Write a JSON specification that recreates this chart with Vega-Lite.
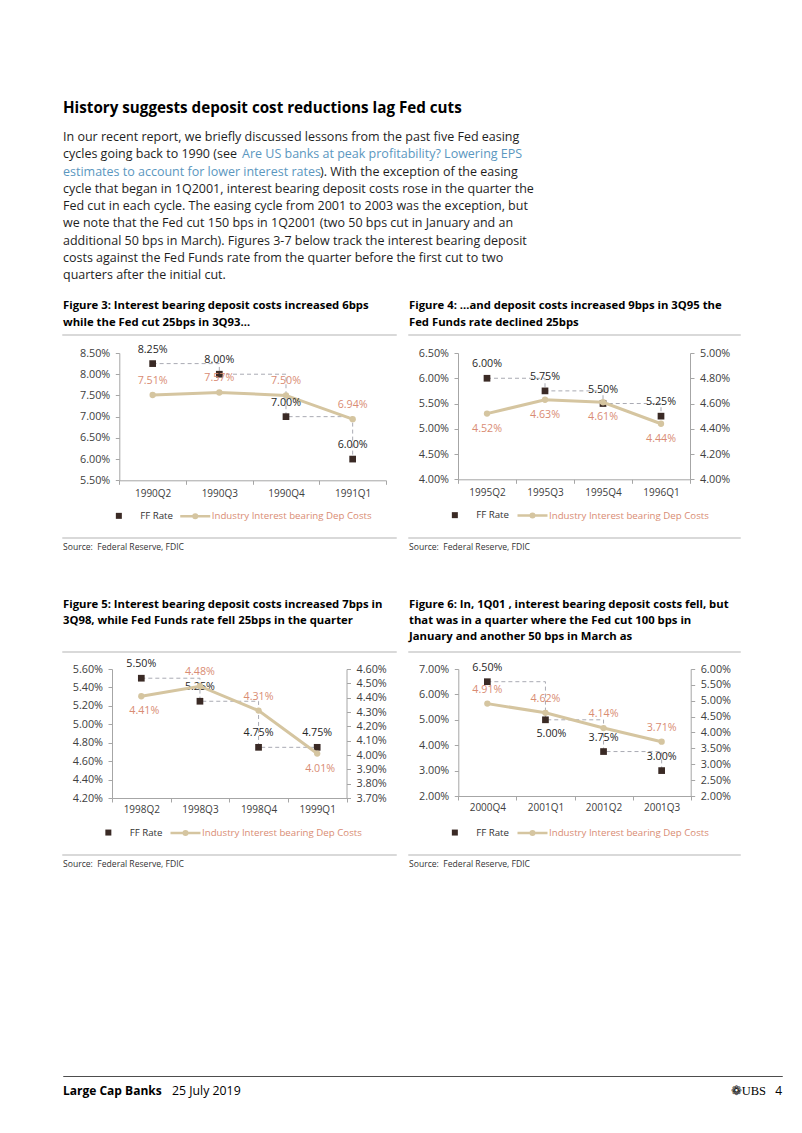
{
  "$schema": "https://vega.github.io/schema/vega-lite/v6.json",
  "padding": {"left": 62, "top": 100, "right": 21, "bottom": 30},
  "background": "white",
  "config": {
    "font": "Open Sans",
    "view": {"stroke": null},
    "axis": {"grid": false, "title": null, "domainColor": "#a6a6a6", "tickColor": "#a6a6a6", "labelColor": "#404040", "tickSize": 4, "labelFont": "Open Sans"},
    "legend": {"labelFont": "Open Sans"},
    "title": {"font": "Open Sans"}
  },
  "spacing": 0,
  "resolve": {"scale": {"color": "independent", "fill": "independent", "stroke": "independent"}, "legend": {"color": "independent", "fill": "independent", "stroke": "independent"}},
  "vconcat": [
    {
      "width": 454,
      "height": 138,
      "title": {"text": "History suggests deposit cost reductions lag Fed cuts", "anchor": "start", "frame": "group", "fontSize": 15.2, "fontWeight": "bold", "color": "#000000", "baseline": "bottom", "offset": 0},
      "data": {"values": [
        {"line": 1, "seg": 1, "kind": "body", "text": "In our recent report, we briefly discussed lessons from the past five Fed easing"},
        {"line": 2, "seg": 1, "kind": "body", "text": "cycles going back to 1990 (see"},
        {"line": 2, "seg": 2, "kind": "link", "text": "Are US banks at peak profitability? Lowering EPS"},
        {"line": 3, "seg": 1, "kind": "link", "text": "estimates to account for lower interest rates"},
        {"line": 3, "seg": 2, "kind": "body", "text": "). With the exception of the easing"},
        {"line": 4, "seg": 1, "kind": "body", "text": "cycle that began in 1Q2001, interest bearing deposit costs rose in the quarter the"},
        {"line": 5, "seg": 1, "kind": "body", "text": "Fed cut in each cycle. The easing cycle from 2001 to 2003 was the exception, but"},
        {"line": 6, "seg": 1, "kind": "body", "text": "we note that the Fed cut 150 bps in 1Q2001 (two 50 bps cut in January and an"},
        {"line": 7, "seg": 1, "kind": "body", "text": "additional 50 bps in March). Figures 3-7 below track the interest bearing deposit"},
        {"line": 8, "seg": 1, "kind": "body", "text": "costs against the Fed Funds rate from the quarter before the first cut to two"},
        {"line": 9, "seg": 1, "kind": "body", "text": "quarters after the initial cut."}
      ]},
      "encoding": {
        "y": {"field": "line", "type": "ordinal", "scale": {"type": "point", "padding": 0}, "axis": null},
        "text": {"field": "text"},
        "color": {"field": "kind", "type": "nominal", "scale": {"domain": ["body", "link"], "range": ["#1e1e1e", "#5b97c0"]}, "legend": null}
      },
      "layer": [
        {"transform": [{"filter": "datum.seg == 1"}], "mark": {"type": "text", "x": 0, "align": "left", "baseline": "middle", "fontSize": 12.5}},
        {"transform": [{"filter": "datum.seg == 2 && datum.line == 2"}], "mark": {"type": "text", "x": 0, "dx": 179, "align": "left", "baseline": "middle", "fontSize": 12.5}},
        {"transform": [{"filter": "datum.seg == 2 && datum.line == 3"}], "mark": {"type": "text", "x": 0, "dx": 257, "align": "left", "baseline": "middle", "fontSize": 12.5}}
      ]
    },
    {"width": 1, "height": 16, "data": {"values": [{}]}, "mark": {"type": "text", "text": ""}},
    {
      "hconcat": [
        {
          "vconcat": [
            {"width": 333, "height": 0.001, "view": {"stroke": "#cdcdcd", "strokeWidth": 1.5},
             "title": {"text": ["Figure 3: Interest bearing deposit costs increased 6bps", "while the Fed cut 25bps in 3Q93…"], "anchor": "start", "frame": "group", "fontSize": 11.3, "fontWeight": "bold", "color": "#000000", "baseline": "bottom", "lineHeight": 17, "offset": -9.95},
             "data": {"values": [{}]}, "mark": {"type": "text", "text": ""}},
            {"width": 1, "height": 17, "data": {"values": [{}]}, "mark": {"type": "text", "text": ""}},
            {
              "width": 333,
              "height": 127.3,
              "data": {"values": [
                {"q": "1990Q2", "series": "FF Rate", "v": 0.0825},
                {"q": "1990Q3", "series": "FF Rate", "v": 0.08},
                {"q": "1990Q4", "series": "FF Rate", "v": 0.07},
                {"q": "1991Q1", "series": "FF Rate", "v": 0.06},
                {"q": "1990Q2", "series": "Industry Interest bearing Dep Costs", "v": 0.0751},
                {"q": "1990Q3", "series": "Industry Interest bearing Dep Costs", "v": 0.0757},
                {"q": "1990Q4", "series": "Industry Interest bearing Dep Costs", "v": 0.075},
                {"q": "1991Q1", "series": "Industry Interest bearing Dep Costs", "v": 0.0694}
              ]},
              "encoding": {
                "x": {"field": "q", "type": "ordinal", "scale": {"type": "band", "paddingInner": 0, "paddingOuter": 0, "range": [56.3, 323]}, "axis": {"labelAngle": 0, "labelFontSize": 10, "labelPadding": 4, "tickBand": "extent"}},
                "y": {"field": "v", "type": "quantitative", "scale": {"domain": [0.055, 0.085], "nice": false, "zero": false}, "axis": {"offset": -56.3, "values": [0.055, 0.06, 0.065, 0.07, 0.075, 0.08, 0.085], "format": ".2%", "labelFontSize": 10.8, "labelPadding": 5.5}}
              },
              "layer": [
                {"transform": [{"filter": "datum.series == 'FF Rate'"}], "mark": {"type": "line", "interpolate": "step-after", "strokeDash": [4, 3], "color": "#a9aab3", "strokeWidth": 1}},
                {"transform": [{"filter": "datum.series != 'FF Rate'"}], "mark": {"type": "line", "color": "#d5c5a0", "strokeWidth": 3}},
                {"transform": [{"filter": "datum.series == 'FF Rate'"}], "mark": {"type": "point", "shape": "square", "filled": true, "opacity": 1, "size": 45, "color": "#3a2a25"}},
                {"transform": [{"filter": "datum.series != 'FF Rate'"}], "mark": {"type": "point", "shape": "circle", "filled": true, "opacity": 1, "size": 40, "color": "#d5c5a0"}},
                {"transform": [{"filter": "datum.series == 'FF Rate'"}], "mark": {"type": "point", "shape": "square", "filled": true, "opacity": 0},
                 "encoding": {"fill": {"field": "series", "type": "nominal", "scale": {"domain": ["FF Rate"], "range": ["#3a2a25"]},
                   "legend": {"orient": "none", "legendX": 51, "legendY": 158, "title": null, "symbolType": "square", "symbolSize": 36, "symbolStrokeWidth": 0, "symbolOpacity": 1, "labelFontSize": 9.7, "labelColor": "#333333", "labelOffset": 16.5, "padding": 0}}}},
                {"transform": [{"filter": "datum.series != 'FF Rate'"}], "mark": {"type": "point", "filled": false, "opacity": 0},
                 "encoding": {"stroke": {"field": "series", "type": "nominal", "scale": {"domain": ["Industry Interest bearing Dep Costs"], "range": ["#d5c5a0"]},
                   "legend": {"orient": "none", "legendX": 115.75, "legendY": 146.75, "title": null, "symbolType": "M-1,0H1M0.12,0A0.12,0.12,0,1,1,-0.12,0A0.12,0.12,0,1,1,0.12,0", "symbolSize": 900, "symbolStrokeWidth": 2.5, "symbolOpacity": 1, "labelFontSize": 9.7, "labelColor": "#d98c73", "labelOffset": 0, "padding": 0}}}},
                {"transform": [{"filter": "datum.series == 'FF Rate'"}], "mark": {"type": "text", "dy": -14, "fontSize": 10.7, "color": "#262626"}, "encoding": {"text": {"field": "v", "type": "quantitative", "format": ".2%"}}},
                {"transform": [{"filter": "datum.series != 'FF Rate'"}], "mark": {"type": "text", "dy": -14, "fontSize": 10.7, "color": "#d98c73"}, "encoding": {"text": {"field": "v", "type": "quantitative", "format": ".2%"}}}
              ]
            },
            {"width": 1, "height": 57, "data": {"values": [{}]}, "mark": {"type": "text", "text": ""}},
            {"width": 333, "height": 0.001, "view": {"stroke": "#cdcdcd", "strokeWidth": 1.5},
             "title": {"text": "Source:\u00a0 Federal Reserve, FDIC", "orient": "bottom", "anchor": "start", "frame": "group", "fontSize": 8.6, "fontWeight": "normal", "color": "#333333", "baseline": "top", "offset": 0.2},
             "data": {"values": [{}]}, "mark": {"type": "text", "text": ""}}
          ],
          "spacing": 0, "bounds": "flush",
          "resolve": {"scale": {"fill": "independent", "stroke": "independent"}, "legend": {"fill": "independent", "stroke": "independent"}}
        },
        {
          "vconcat": [
            {"width": 331, "height": 0.001, "view": {"stroke": "#cdcdcd", "strokeWidth": 1.5},
             "title": {"text": ["Figure 4: …and deposit costs increased 9bps in 3Q95 the", "Fed Funds rate declined 25bps"], "anchor": "start", "frame": "group", "fontSize": 11.3, "fontWeight": "bold", "color": "#000000", "baseline": "bottom", "lineHeight": 17, "offset": -9.95},
             "data": {"values": [{}]}, "mark": {"type": "text", "text": ""}},
            {"width": 1, "height": 17, "data": {"values": [{}]}, "mark": {"type": "text", "text": ""}},
            {
              "width": 331,
              "height": 126.3,
              "data": {"values": [
                {"q": "1995Q2", "series": "FF Rate", "v": 0.06},
                {"q": "1995Q3", "series": "FF Rate", "v": 0.0575},
                {"q": "1995Q4", "series": "FF Rate", "v": 0.055},
                {"q": "1996Q1", "series": "FF Rate", "v": 0.0525},
                {"q": "1995Q2", "series": "Industry Interest bearing Dep Costs", "v": 0.0452},
                {"q": "1995Q3", "series": "Industry Interest bearing Dep Costs", "v": 0.0463},
                {"q": "1995Q4", "series": "Industry Interest bearing Dep Costs", "v": 0.0461},
                {"q": "1996Q1", "series": "Industry Interest bearing Dep Costs", "v": 0.0444}
              ]},
              "encoding": {
                "x": {"field": "q", "type": "ordinal", "scale": {"type": "band", "paddingInner": 0, "paddingOuter": 0, "range": [49, 281]}, "axis": {"labelAngle": 0, "labelFontSize": 10, "labelPadding": 4, "tickBand": "extent"}}
              },
              "layer": [
                {
                  "transform": [{"filter": "datum.series == 'FF Rate'"}],
                  "encoding": {"y": {"field": "v", "type": "quantitative", "scale": {"domain": [0.04, 0.065], "nice": false, "zero": false}, "axis": {"offset": -49, "values": [0.04, 0.045, 0.05, 0.055, 0.06, 0.065], "format": ".2%", "labelFontSize": 10.8, "labelPadding": 5.5}}},
                  "layer": [
                    {"mark": {"type": "line", "interpolate": "step-after", "strokeDash": [4, 3], "color": "#a9aab3", "strokeWidth": 1}},
                    {"mark": {"type": "point", "shape": "square", "filled": true, "opacity": 1, "size": 45, "color": "#3a2a25"}},
                    {"mark": {"type": "point", "shape": "square", "filled": true, "opacity": 0},
                     "encoding": {"fill": {"field": "series", "type": "nominal", "scale": {"domain": ["FF Rate"], "range": ["#3a2a25"]},
                       "legend": {"orient": "none", "legendX": 41, "legendY": 157.3, "title": null, "symbolType": "square", "symbolSize": 36, "symbolStrokeWidth": 0, "symbolOpacity": 1, "labelFontSize": 9.7, "labelColor": "#333333", "labelOffset": 16.5, "padding": 0}}}},
                    {"mark": {"type": "text", "dy": -14, "fontSize": 10.7, "color": "#262626"}, "encoding": {"text": {"field": "v", "type": "quantitative", "format": ".2%"}}}
                  ]
                },
                {
                  "transform": [{"filter": "datum.series != 'FF Rate'"}],
                  "encoding": {"y": {"field": "v", "type": "quantitative", "scale": {"domain": [0.04, 0.05], "nice": false, "zero": false}, "axis": {"orient": "right", "offset": -50, "values": [0.04, 0.042, 0.044, 0.046, 0.048, 0.05], "format": ".2%", "labelFontSize": 10.8, "labelPadding": 5.5}}},
                  "layer": [
                    {"mark": {"type": "line", "color": "#d5c5a0", "strokeWidth": 3}},
                    {"mark": {"type": "point", "shape": "circle", "filled": true, "opacity": 1, "size": 40, "color": "#d5c5a0"}},
                    {"mark": {"type": "point", "filled": false, "opacity": 0},
                     "encoding": {"stroke": {"field": "series", "type": "nominal", "scale": {"domain": ["Industry Interest bearing Dep Costs"], "range": ["#d5c5a0"]},
                       "legend": {"orient": "none", "legendX": 107, "legendY": 146, "title": null, "symbolType": "M-1,0H1M0.12,0A0.12,0.12,0,1,1,-0.12,0A0.12,0.12,0,1,1,0.12,0", "symbolSize": 900, "symbolStrokeWidth": 2.5, "symbolOpacity": 1, "labelFontSize": 9.7, "labelColor": "#d98c73", "labelOffset": 0, "padding": 0}}}},
                    {"mark": {"type": "text", "dy": 15, "fontSize": 10.7, "color": "#d98c73"}, "encoding": {"text": {"field": "v", "type": "quantitative", "format": ".2%"}}}
                  ]
                }
              ],
              "resolve": {"scale": {"y": "independent"}}
            },
            {"width": 1, "height": 58, "data": {"values": [{}]}, "mark": {"type": "text", "text": ""}},
            {"width": 331, "height": 0.001, "view": {"stroke": "#cdcdcd", "strokeWidth": 1.5},
             "title": {"text": "Source:\u00a0 Federal Reserve, FDIC", "orient": "bottom", "anchor": "start", "frame": "group", "fontSize": 8.6, "fontWeight": "normal", "color": "#333333", "baseline": "top", "offset": 0.2},
             "data": {"values": [{}]}, "mark": {"type": "text", "text": ""}}
          ],
          "spacing": 0, "bounds": "flush",
          "resolve": {"scale": {"fill": "independent", "stroke": "independent"}, "legend": {"fill": "independent", "stroke": "independent"}}
        }
      ],
      "spacing": 11,
      "resolve": {"scale": {"fill": "independent", "stroke": "independent"}, "legend": {"fill": "independent", "stroke": "independent"}}
    },
    {"width": 1, "height": 45, "data": {"values": [{}]}, "mark": {"type": "text", "text": ""}},
    {
      "hconcat": [
        {
          "vconcat": [
            {"width": 333, "height": 0.001, "view": {"stroke": "#cdcdcd", "strokeWidth": 1.5},
             "title": {"text": ["Figure 5: Interest bearing deposit costs increased 7bps in", "3Q98, while Fed Funds rate fell 25bps in the quarter", " "], "anchor": "start", "frame": "group", "fontSize": 11.3, "fontWeight": "bold", "color": "#000000", "baseline": "bottom", "lineHeight": 16, "offset": -7.7},
             "data": {"values": [{}]}, "mark": {"type": "text", "text": ""}},
            {"width": 1, "height": 16, "data": {"values": [{}]}, "mark": {"type": "text", "text": ""}},
            {
              "width": 333,
              "height": 129,
              "data": {"values": [
                {"q": "1998Q2", "series": "FF Rate", "v": 0.055},
                {"q": "1998Q3", "series": "FF Rate", "v": 0.0525},
                {"q": "1998Q4", "series": "FF Rate", "v": 0.0475},
                {"q": "1999Q1", "series": "FF Rate", "v": 0.0475},
                {"q": "1998Q2", "series": "Industry Interest bearing Dep Costs", "v": 0.0441},
                {"q": "1998Q3", "series": "Industry Interest bearing Dep Costs", "v": 0.0448},
                {"q": "1998Q4", "series": "Industry Interest bearing Dep Costs", "v": 0.0431},
                {"q": "1999Q1", "series": "Industry Interest bearing Dep Costs", "v": 0.0401}
              ]},
              "encoding": {
                "x": {"field": "q", "type": "ordinal", "scale": {"type": "band", "paddingInner": 0, "paddingOuter": 0, "range": [49, 283.5]}, "axis": {"labelAngle": 0, "labelFontSize": 10, "labelPadding": 2, "tickBand": "extent"}}
              },
              "layer": [
                {
                  "transform": [{"filter": "datum.series == 'FF Rate'"}],
                  "encoding": {"y": {"field": "v", "type": "quantitative", "scale": {"domain": [0.042, 0.056], "nice": false, "zero": false}, "axis": {"offset": -49, "values": [0.042, 0.044, 0.046, 0.048, 0.05, 0.052, 0.054, 0.056], "format": ".2%", "labelFontSize": 10.8, "labelPadding": 5.5}}},
                  "layer": [
                    {"mark": {"type": "line", "interpolate": "step-after", "strokeDash": [4, 3], "color": "#a9aab3", "strokeWidth": 1}},
                    {"mark": {"type": "point", "shape": "square", "filled": true, "opacity": 1, "size": 45, "color": "#3a2a25"}},
                    {"mark": {"type": "point", "shape": "square", "filled": true, "opacity": 0},
                     "encoding": {"fill": {"field": "series", "type": "nominal", "scale": {"domain": ["FF Rate"], "range": ["#3a2a25"]},
                       "legend": {"orient": "none", "legendX": 40.5, "legendY": 158.7, "title": null, "symbolType": "square", "symbolSize": 36, "symbolStrokeWidth": 0, "symbolOpacity": 1, "labelFontSize": 9.7, "labelColor": "#333333", "labelOffset": 16.5, "padding": 0}}}},
                    {"mark": {"type": "text", "dy": -14, "fontSize": 10.7, "color": "#262626"}, "encoding": {"text": {"field": "v", "type": "quantitative", "format": ".2%"}}}
                  ]
                },
                {
                  "transform": [{"filter": "datum.series != 'FF Rate'"}],
                  "encoding": {"y": {"field": "v", "type": "quantitative", "scale": {"domain": [0.037, 0.046], "nice": false, "zero": false}, "axis": {"orient": "right", "offset": -49.5, "values": [0.037, 0.038, 0.039, 0.04, 0.041, 0.042, 0.043, 0.044, 0.045, 0.046], "format": ".2%", "labelFontSize": 10.8, "labelPadding": 5.5}}},
                  "layer": [
                    {"mark": {"type": "line", "color": "#d5c5a0", "strokeWidth": 3}},
                    {"mark": {"type": "point", "shape": "circle", "filled": true, "opacity": 1, "size": 40, "color": "#d5c5a0"}},
                    {"mark": {"type": "point", "filled": false, "opacity": 0},
                     "encoding": {"stroke": {"field": "series", "type": "nominal", "scale": {"domain": ["Industry Interest bearing Dep Costs"], "range": ["#d5c5a0"]},
                       "legend": {"orient": "none", "legendX": 106, "legendY": 147.5, "title": null, "symbolType": "M-1,0H1M0.12,0A0.12,0.12,0,1,1,-0.12,0A0.12,0.12,0,1,1,0.12,0", "symbolSize": 900, "symbolStrokeWidth": 2.5, "symbolOpacity": 1, "labelFontSize": 9.7, "labelColor": "#d98c73", "labelOffset": 0, "padding": 0}}}},
                    {"transform": [{"filter": "datum.q == '1998Q2' || datum.q == '1999Q1'"}], "mark": {"type": "text", "dy": 15, "dx": 3, "fontSize": 10.7, "color": "#d98c73"}, "encoding": {"text": {"field": "v", "type": "quantitative", "format": ".2%"}}},
                    {"transform": [{"filter": "datum.q == '1998Q3' || datum.q == '1998Q4'"}], "mark": {"type": "text", "dy": -14, "fontSize": 10.7, "color": "#d98c73"}, "encoding": {"text": {"field": "v", "type": "quantitative", "format": ".2%"}}}
                  ]
                }
              ],
              "resolve": {"scale": {"y": "independent"}}
            },
            {"width": 1, "height": 56.5, "data": {"values": [{}]}, "mark": {"type": "text", "text": ""}},
            {"width": 333, "height": 0.001, "view": {"stroke": "#cdcdcd", "strokeWidth": 1.5},
             "title": {"text": "Source:\u00a0 Federal Reserve, FDIC", "orient": "bottom", "anchor": "start", "frame": "group", "fontSize": 8.6, "fontWeight": "normal", "color": "#333333", "baseline": "top", "offset": 0.2},
             "data": {"values": [{}]}, "mark": {"type": "text", "text": ""}}
          ],
          "spacing": 0, "bounds": "flush",
          "resolve": {"scale": {"fill": "independent", "stroke": "independent"}, "legend": {"fill": "independent", "stroke": "independent"}}
        },
        {
          "vconcat": [
            {"width": 331, "height": 0.001, "view": {"stroke": "#cdcdcd", "strokeWidth": 1.5},
             "title": {"text": ["Figure 6: In, 1Q01 , interest bearing deposit costs fell, but", "that was in a quarter where the Fed cut 100 bps in", "January and another 50 bps in March as"], "anchor": "start", "frame": "group", "fontSize": 11.3, "fontWeight": "bold", "color": "#000000", "baseline": "bottom", "lineHeight": 16, "offset": -7.7},
             "data": {"values": [{}]}, "mark": {"type": "text", "text": ""}},
            {"width": 1, "height": 16, "data": {"values": [{}]}, "mark": {"type": "text", "text": ""}},
            {
              "width": 331,
              "height": 127,
              "data": {"values": [
                {"q": "2000Q4", "series": "FF Rate", "v": 0.065},
                {"q": "2001Q1", "series": "FF Rate", "v": 0.05},
                {"q": "2001Q2", "series": "FF Rate", "v": 0.0375},
                {"q": "2001Q3", "series": "FF Rate", "v": 0.03},
                {"q": "2000Q4", "series": "Industry Interest bearing Dep Costs", "v": 0.0491},
                {"q": "2001Q1", "series": "Industry Interest bearing Dep Costs", "v": 0.0462},
                {"q": "2001Q2", "series": "Industry Interest bearing Dep Costs", "v": 0.0414},
                {"q": "2001Q3", "series": "Industry Interest bearing Dep Costs", "v": 0.0371}
              ]},
              "encoding": {
                "x": {"field": "q", "type": "ordinal", "scale": {"type": "band", "paddingInner": 0, "paddingOuter": 0, "range": [49.3, 281.7]}, "axis": {"labelAngle": 0, "labelFontSize": 10, "labelPadding": 2, "tickBand": "extent"}}
              },
              "layer": [
                {
                  "transform": [{"filter": "datum.series == 'FF Rate'"}],
                  "encoding": {"y": {"field": "v", "type": "quantitative", "scale": {"domain": [0.02, 0.07], "nice": false, "zero": false}, "axis": {"offset": -49.3, "values": [0.02, 0.03, 0.04, 0.05, 0.06, 0.07], "format": ".2%", "labelFontSize": 10.8, "labelPadding": 5.5}}},
                  "layer": [
                    {"mark": {"type": "line", "interpolate": "step-after", "strokeDash": [4, 3], "color": "#a9aab3", "strokeWidth": 1}},
                    {"mark": {"type": "point", "shape": "square", "filled": true, "opacity": 1, "size": 45, "color": "#3a2a25"}},
                    {"mark": {"type": "point", "shape": "square", "filled": true, "opacity": 0},
                     "encoding": {"fill": {"field": "series", "type": "nominal", "scale": {"domain": ["FF Rate"], "range": ["#3a2a25"]},
                       "legend": {"orient": "none", "legendX": 41, "legendY": 158.7, "title": null, "symbolType": "square", "symbolSize": 36, "symbolStrokeWidth": 0, "symbolOpacity": 1, "labelFontSize": 9.7, "labelColor": "#333333", "labelOffset": 16.5, "padding": 0}}}},
                    {"transform": [{"filter": "datum.q != '2001Q1'"}], "mark": {"type": "text", "dy": -14, "fontSize": 10.7, "color": "#262626"}, "encoding": {"text": {"field": "v", "type": "quantitative", "format": ".2%"}}},
                    {"transform": [{"filter": "datum.q == '2001Q1'"}], "mark": {"type": "text", "dy": 14, "dx": 6, "fontSize": 10.7, "color": "#262626"}, "encoding": {"text": {"field": "v", "type": "quantitative", "format": ".2%"}}}
                  ]
                },
                {
                  "transform": [{"filter": "datum.series != 'FF Rate'"}],
                  "encoding": {"y": {"field": "v", "type": "quantitative", "scale": {"domain": [0.02, 0.06], "nice": false, "zero": false}, "axis": {"orient": "right", "offset": -49.3, "values": [0.02, 0.025, 0.03, 0.035, 0.04, 0.045, 0.05, 0.055, 0.06], "format": ".2%", "labelFontSize": 10.8, "labelPadding": 5.5}}},
                  "layer": [
                    {"mark": {"type": "line", "color": "#d5c5a0", "strokeWidth": 3}},
                    {"mark": {"type": "point", "shape": "circle", "filled": true, "opacity": 1, "size": 40, "color": "#d5c5a0"}},
                    {"mark": {"type": "point", "filled": false, "opacity": 0},
                     "encoding": {"stroke": {"field": "series", "type": "nominal", "scale": {"domain": ["Industry Interest bearing Dep Costs"], "range": ["#d5c5a0"]},
                       "legend": {"orient": "none", "legendX": 107, "legendY": 147.5, "title": null, "symbolType": "M-1,0H1M0.12,0A0.12,0.12,0,1,1,-0.12,0A0.12,0.12,0,1,1,0.12,0", "symbolSize": 900, "symbolStrokeWidth": 2.5, "symbolOpacity": 1, "labelFontSize": 9.7, "labelColor": "#d98c73", "labelOffset": 0, "padding": 0}}}},
                    {"mark": {"type": "text", "dy": -14, "fontSize": 10.7, "color": "#d98c73"}, "encoding": {"text": {"field": "v", "type": "quantitative", "format": ".2%"}}}
                  ]
                }
              ],
              "resolve": {"scale": {"y": "independent"}}
            },
            {"width": 1, "height": 58.5, "data": {"values": [{}]}, "mark": {"type": "text", "text": ""}},
            {"width": 331, "height": 0.001, "view": {"stroke": "#cdcdcd", "strokeWidth": 1.5},
             "title": {"text": "Source:\u00a0 Federal Reserve, FDIC", "orient": "bottom", "anchor": "start", "frame": "group", "fontSize": 8.6, "fontWeight": "normal", "color": "#333333", "baseline": "top", "offset": 0.2},
             "data": {"values": [{}]}, "mark": {"type": "text", "text": ""}}
          ],
          "spacing": 0, "bounds": "flush",
          "resolve": {"scale": {"fill": "independent", "stroke": "independent"}, "legend": {"fill": "independent", "stroke": "independent"}}
        }
      ],
      "spacing": 11,
      "resolve": {"scale": {"fill": "independent", "stroke": "independent"}, "legend": {"fill": "independent", "stroke": "independent"}}
    },
    {"width": 1, "height": 204.8, "data": {"values": [{}]}, "mark": {"type": "text", "text": ""}},
    {
      "width": 719,
      "height": 0.001,
      "view": {"stroke": "#4d4d4d", "strokeWidth": 1},
      "data": {"values": [
        {"part": "title", "t": "Large Cap Banks"},
        {"part": "date", "t": "25 July 2019"},
        {"part": "logo", "t": "❁UBS"},
        {"part": "page", "t": "4"}
      ]},
      "encoding": {"text": {"field": "t"}},
      "layer": [
        {"transform": [{"filter": "datum.part == 'title'"}], "mark": {"type": "text", "x": 0, "y": 15, "align": "left", "baseline": "middle", "fontSize": 12, "fontWeight": "bold", "color": "#000000"}},
        {"transform": [{"filter": "datum.part == 'date'"}], "mark": {"type": "text", "x": 0, "dx": 109, "y": 15, "align": "left", "baseline": "middle", "fontSize": 12.3, "color": "#000000"}},
        {"transform": [{"filter": "datum.part == 'logo'"}], "mark": {"type": "text", "x": "width", "dx": -16, "y": 15, "align": "right", "baseline": "middle", "font": "Liberation Serif", "fontSize": 12.5, "color": "#000000"}},
        {"transform": [{"filter": "datum.part == 'page'"}], "mark": {"type": "text", "x": "width", "y": 15, "align": "right", "baseline": "middle", "fontSize": 12, "color": "#000000"}}
      ]
    }
  ]
}
